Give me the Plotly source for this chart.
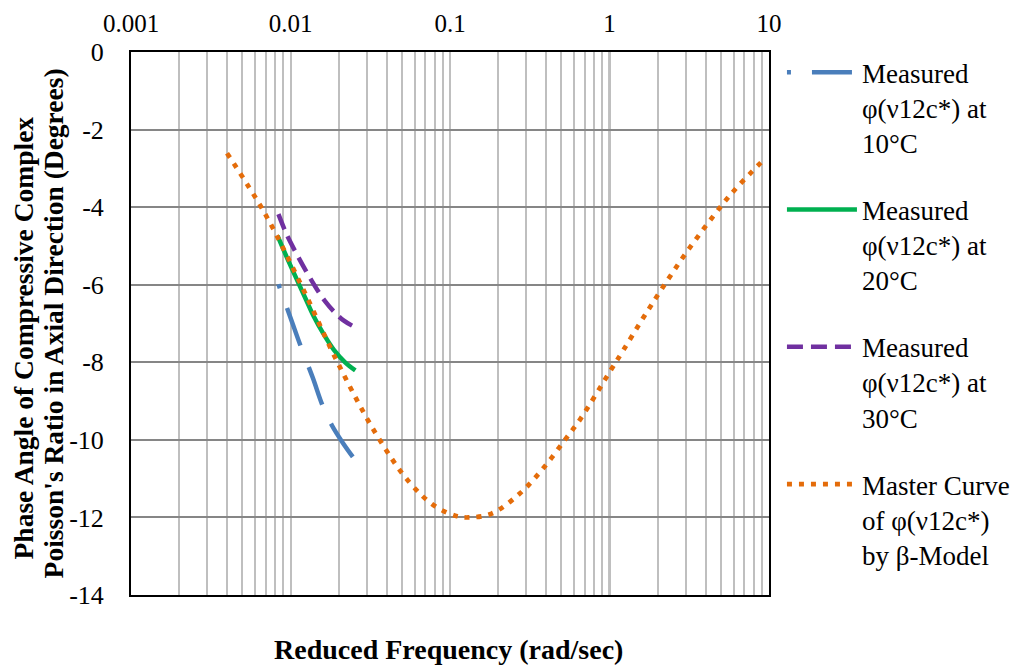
import plotly.graph_objects as go

# ---- data ----
freq_10 = [0.0084, 0.0100, 0.0115, 0.0138, 0.0159, 0.0182, 0.0213, 0.0251]
phase_10 = [-5.99, -6.85, -7.55, -8.40, -9.12, -9.63, -10.08, -10.49]

freq_20 = [0.0083, 0.0095, 0.0110, 0.0125, 0.0140, 0.0160, 0.0187, 0.0220, 0.0255]
phase_20 = [-4.74, -5.30, -5.88, -6.38, -6.82, -7.25, -7.68, -8.00, -8.21]

freq_30 = [0.0084, 0.0095, 0.0110, 0.0128, 0.0147, 0.0165, 0.0187, 0.0215, 0.0255]
phase_30 = [-4.18, -4.72, -5.23, -5.72, -6.13, -6.43, -6.69, -6.92, -7.10]

freq_master = [0.004, 0.0069, 0.0118, 0.0196, 0.0344, 0.0558, 0.0812, 0.111, 0.131,
               0.1825, 0.276, 0.39, 0.53, 0.655, 1.02, 1.224, 1.596, 2.11, 3.08,
               5.13, 6.43, 9.4]
phase_master = [-2.61, -4.16, -6.05, -7.98, -9.85, -11.10, -11.72, -11.97, -12.0,
                -11.9, -11.37, -10.7, -9.98, -9.47, -8.2, -7.68, -6.91, -6.13, -5.13,
                -3.92, -3.45, -2.75]

names = ["Measured<br>φ(ν12c*) at<br>10°C",
         "Measured<br>φ(ν12c*) at<br>20°C",
         "Measured<br>φ(ν12c*) at<br>30°C",
         "Master Curve<br>of φ(ν12c*)<br>by β-Model"]

x_tickvals = [0.001, 0.01, 0.1, 1, 10]
x_ticktext = ["0.001", "0.01", "0.1", "1", "10"]
y_tickvals = [0, -2, -4, -6, -8, -10, -12, -14]
y_ticktext = ["0", "-2", "-4", "-6", "-8", "-10", "-12", "-14"]

y_title_lines = ["Phase Angle of Compressive Complex",
                 "Poisson's Ratio in Axial Direction (Degrees)"]
x_title = "Reduced Frequency (rad/sec)"

FONT = "Liberation Serif, Times New Roman, serif"

fig = go.Figure()
fig.add_trace(go.Scatter(x=freq_10, y=phase_10, mode="lines", name=names[0],
                         legendgroup="a",
                         line=dict(color="#4A7EBB", width=4.5,
                                   dash="4px,21px,40px,23px,40px,21px,40px,21px,40px,21px"),
                         line_shape="spline"))
fig.add_trace(go.Scatter(x=freq_20, y=phase_20, mode="lines", name=names[1],
                         legendgroup="b", line=dict(color="#00B050", width=4.5),
                         line_shape="spline"))
fig.add_trace(go.Scatter(x=freq_30, y=phase_30, mode="lines", name=names[2],
                         legendgroup="c", line=dict(color="#7030A0", width=4.5, dash="16px,8px"),
                         line_shape="spline"))
fig.add_trace(go.Scatter(x=freq_master, y=phase_master, mode="lines", name=names[3],
                         legendgroup="d", line=dict(color="#E46C0A", width=4.7, dash="5px,7px"),
                         line_shape="spline"))

# vertical axis crossing line at x = 1
fig.add_shape(type="line", xref="x", yref="y", x0=1, x1=1, y0=-14, y1=0,
              line=dict(color="#868686", width=2), layer="below")

fig.update_xaxes(type="log", range=[-3, 1], side="top",
                 tickvals=x_tickvals, ticktext=x_ticktext,
                 showgrid=True, gridcolor="#BFBFBF", gridwidth=1.5,
                 minor=dict(dtick="D1", showgrid=True, gridcolor="#BFBFBF", gridwidth=1.5),
                 showline=True, linecolor="black", linewidth=2, mirror=True,
                 ticks="", ticklabelstandoff=8, automargin=False,
                 tickfont=dict(family=FONT, size=25, color="black"),
                 zeroline=False)
fig.update_yaxes(range=[-14, 0], tickvals=y_tickvals, ticktext=y_ticktext,
                 showgrid=True, gridcolor="#868686", gridwidth=1.5,
                 showline=True, linecolor="black", linewidth=2, mirror=True,
                 ticks="", ticklabelstandoff=20, automargin=False,
                 tickfont=dict(family=FONT, size=26, color="black"),
                 zeroline=False)

fig.add_annotation(text="<b>" + y_title_lines[0] + "</b>",
                   xref="paper", yref="paper", x=-0.168, y=0.474, xanchor="center", yanchor="middle",
                   textangle=-90, showarrow=False,
                   font=dict(family=FONT, size=27.5, color="black"))
fig.add_annotation(text="<b>" + y_title_lines[1] + "</b>",
                   xref="paper", yref="paper", x=-0.12, y=0.501, xanchor="center", yanchor="middle",
                   textangle=-90, showarrow=False,
                   font=dict(family=FONT, size=27.5, color="black"))
fig.add_annotation(text="<b>" + x_title + "</b>",
                   xref="paper", yref="paper", x=0.497, y=-0.101, xanchor="center", yanchor="middle",
                   showarrow=False, font=dict(family=FONT, size=28, color="black"))

# the page body has an 8px margin, so the figure is 8px smaller and offset
fig.update_layout(
    width=1013, height=657,
    margin=dict(l=123, r=252, t=44, b=70, autoexpand=False),
    paper_bgcolor="white", plot_bgcolor="white",
    showlegend=True,
    legend=dict(x=1.0203, y=1.007, xanchor="left", yanchor="top",
                font=dict(family=FONT, size=27, color="black"),
                valign="top", tracegroupgap=29, itemwidth=70, maxheight=640,
                bgcolor="rgba(0,0,0,0)"),
)

fig.write_html("out.html")
